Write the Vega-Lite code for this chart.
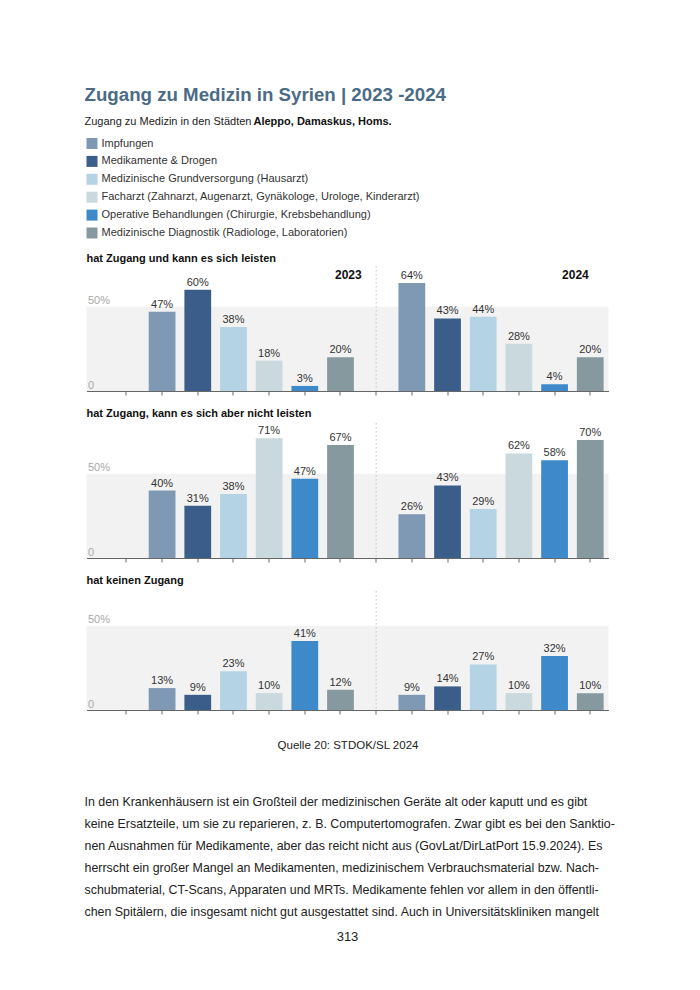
{
  "$schema": "https://vega.github.io/schema/vega-lite/v6.json",
  "background": "white",
  "padding": {"left": 84.5, "top": 86, "right": 10, "bottom": 10},
  "config": {
    "font": "Liberation Sans",
    "view": {"stroke": null},
    "title": {"font": "Liberation Sans"}
  },
  "title": {
    "text": "Zugang zu Medizin in Syrien | 2023 -2024",
    "subtitle": "Zugang zu Medizin in den Städten",
    "anchor": "start",
    "fontSize": 18.7,
    "fontWeight": "bold",
    "color": "#4a6b86",
    "subtitleFontSize": 11,
    "subtitleColor": "#222222",
    "subtitleFont": "Liberation Sans",
    "subtitlePadding": 11,
    "offset": -11
  },
  "datasets": {
    "bars": [
      {"panel": 1, "year": "2023", "slot": "2023-1", "cat": "Impfungen", "value": 0.47},
      {"panel": 1, "year": "2023", "slot": "2023-2", "cat": "Medikamente & Drogen", "value": 0.60},
      {"panel": 1, "year": "2023", "slot": "2023-3", "cat": "Medizinische Grundversorgung (Hausarzt)", "value": 0.38},
      {"panel": 1, "year": "2023", "slot": "2023-4", "cat": "Facharzt (Zahnarzt, Augenarzt, Gynäkologe, Urologe, Kinderarzt)", "value": 0.18},
      {"panel": 1, "year": "2023", "slot": "2023-5", "cat": "Operative Behandlungen (Chirurgie, Krebsbehandlung)", "value": 0.03},
      {"panel": 1, "year": "2023", "slot": "2023-6", "cat": "Medizinische Diagnostik (Radiologe, Laboratorien)", "value": 0.20},
      {"panel": 1, "year": "2024", "slot": "2024-1", "cat": "Impfungen", "value": 0.64},
      {"panel": 1, "year": "2024", "slot": "2024-2", "cat": "Medikamente & Drogen", "value": 0.43},
      {"panel": 1, "year": "2024", "slot": "2024-3", "cat": "Medizinische Grundversorgung (Hausarzt)", "value": 0.44},
      {"panel": 1, "year": "2024", "slot": "2024-4", "cat": "Facharzt (Zahnarzt, Augenarzt, Gynäkologe, Urologe, Kinderarzt)", "value": 0.28},
      {"panel": 1, "year": "2024", "slot": "2024-5", "cat": "Operative Behandlungen (Chirurgie, Krebsbehandlung)", "value": 0.04},
      {"panel": 1, "year": "2024", "slot": "2024-6", "cat": "Medizinische Diagnostik (Radiologe, Laboratorien)", "value": 0.20},
      {"panel": 2, "year": "2023", "slot": "2023-1", "cat": "Impfungen", "value": 0.40},
      {"panel": 2, "year": "2023", "slot": "2023-2", "cat": "Medikamente & Drogen", "value": 0.31},
      {"panel": 2, "year": "2023", "slot": "2023-3", "cat": "Medizinische Grundversorgung (Hausarzt)", "value": 0.38},
      {"panel": 2, "year": "2023", "slot": "2023-4", "cat": "Facharzt (Zahnarzt, Augenarzt, Gynäkologe, Urologe, Kinderarzt)", "value": 0.71},
      {"panel": 2, "year": "2023", "slot": "2023-5", "cat": "Operative Behandlungen (Chirurgie, Krebsbehandlung)", "value": 0.47},
      {"panel": 2, "year": "2023", "slot": "2023-6", "cat": "Medizinische Diagnostik (Radiologe, Laboratorien)", "value": 0.67},
      {"panel": 2, "year": "2024", "slot": "2024-1", "cat": "Impfungen", "value": 0.26},
      {"panel": 2, "year": "2024", "slot": "2024-2", "cat": "Medikamente & Drogen", "value": 0.43},
      {"panel": 2, "year": "2024", "slot": "2024-3", "cat": "Medizinische Grundversorgung (Hausarzt)", "value": 0.29},
      {"panel": 2, "year": "2024", "slot": "2024-4", "cat": "Facharzt (Zahnarzt, Augenarzt, Gynäkologe, Urologe, Kinderarzt)", "value": 0.62},
      {"panel": 2, "year": "2024", "slot": "2024-5", "cat": "Operative Behandlungen (Chirurgie, Krebsbehandlung)", "value": 0.58},
      {"panel": 2, "year": "2024", "slot": "2024-6", "cat": "Medizinische Diagnostik (Radiologe, Laboratorien)", "value": 0.70},
      {"panel": 3, "year": "2023", "slot": "2023-1", "cat": "Impfungen", "value": 0.13},
      {"panel": 3, "year": "2023", "slot": "2023-2", "cat": "Medikamente & Drogen", "value": 0.09},
      {"panel": 3, "year": "2023", "slot": "2023-3", "cat": "Medizinische Grundversorgung (Hausarzt)", "value": 0.23},
      {"panel": 3, "year": "2023", "slot": "2023-4", "cat": "Facharzt (Zahnarzt, Augenarzt, Gynäkologe, Urologe, Kinderarzt)", "value": 0.10},
      {"panel": 3, "year": "2023", "slot": "2023-5", "cat": "Operative Behandlungen (Chirurgie, Krebsbehandlung)", "value": 0.41},
      {"panel": 3, "year": "2023", "slot": "2023-6", "cat": "Medizinische Diagnostik (Radiologe, Laboratorien)", "value": 0.12},
      {"panel": 3, "year": "2024", "slot": "2024-1", "cat": "Impfungen", "value": 0.09},
      {"panel": 3, "year": "2024", "slot": "2024-2", "cat": "Medikamente & Drogen", "value": 0.14},
      {"panel": 3, "year": "2024", "slot": "2024-3", "cat": "Medizinische Grundversorgung (Hausarzt)", "value": 0.27},
      {"panel": 3, "year": "2024", "slot": "2024-4", "cat": "Facharzt (Zahnarzt, Augenarzt, Gynäkologe, Urologe, Kinderarzt)", "value": 0.10},
      {"panel": 3, "year": "2024", "slot": "2024-5", "cat": "Operative Behandlungen (Chirurgie, Krebsbehandlung)", "value": 0.32},
      {"panel": 3, "year": "2024", "slot": "2024-6", "cat": "Medizinische Diagnostik (Radiologe, Laboratorien)", "value": 0.10}
    ]
  },
  "spacing": 40,
  "vconcat": [
    {
      "spacing": 13,
      "resolve": {"scale": {"color": "independent", "y": "independent", "x": "independent"}},
      "vconcat": [
        {
          "width": 522,
          "height": 1,
          "title": {"text": "Aleppo, Damaskus, Homs.", "anchor": "start", "fontSize": 11, "fontWeight": "bold", "color": "#111111", "dx": 167, "offset": 10},
          "data": {"name": "bars"},
          "transform": [{"filter": "datum.panel == 1"}],
          "mark": {"type": "rect", "opacity": 0},
          "encoding": {
            "color": {"field": "cat", "type": "nominal",
              "scale": {"domain": ["Impfungen", "Medikamente & Drogen", "Medizinische Grundversorgung (Hausarzt)", "Facharzt (Zahnarzt, Augenarzt, Gynäkologe, Urologe, Kinderarzt)", "Operative Behandlungen (Chirurgie, Krebsbehandlung)", "Medizinische Diagnostik (Radiologe, Laboratorien)"], "range": ["#7f98b3", "#3b5d89", "#b4d3e5", "#c9d9de", "#3e89ca", "#86999e"]},
              "legend": {"orient": "none", "legendX": 0, "legendY": 1, "title": null, "direction": "vertical", "symbolType": "square", "symbolSize": 121, "symbolStrokeWidth": 0, "symbolOpacity": 1, "labelFontSize": 11, "labelColor": "#333333", "labelLimit": 600, "labelOffset": 4, "rowPadding": 5.9, "padding": 0}}
          }
        },
        {
          "spacing": 11,
          "resolve": {"scale": {"color": "independent", "y": "independent"}},
          "vconcat": [
            {
              "width": 522,
              "height": 125,
              "title": {"text": "hat Zugang und kann es sich leisten", "anchor": "start", "fontSize": 11, "fontWeight": "bold", "color": "#111111", "offset": 2},
              "layer": [
                {
                  "data": {"values": [{}]},
                  "mark": {"type": "rect", "color": "#f2f2f2"},
                  "encoding": {"y": {"datum": 0, "type": "quantitative"}, "y2": {"datum": 0.5}}
                },
                {
                  "data": {"values": [{}]},
                  "mark": {"type": "rule", "color": "#c4c4c4", "strokeDash": [1.5, 2.5], "strokeWidth": 1},
                  "encoding": {"x": {"datum": "b", "type": "nominal"}}
                },
                {
                  "data": {"name": "bars"},
                  "transform": [{"filter": "datum.panel == 1"}],
                  "mark": {"type": "bar"},
                  "encoding": {
                    "x": {"field": "slot", "type": "nominal", "sort": null,
                      "scale": {"domain": ["a", "2023-1", "2023-2", "2023-3", "2023-4", "2023-5", "2023-6", "b", "2024-1", "2024-2", "2024-3", "2024-4", "2024-5", "2024-6"], "paddingInner": 0.25, "paddingOuter": 0.44, "align": 0.845, "round": false},
                      "axis": {"title": null, "labels": false, "domain": true, "domainColor": "#666666", "ticks": true, "tickColor": "#666666", "tickSize": 4, "grid": false, "bandPosition": 0.5, "zindex": 1}},
                    "y": {"field": "value", "type": "quantitative",
                      "scale": {"domain": [0, 0.741], "nice": false},
                      "axis": {"title": null, "values": [0, 0.5], "domain": false, "ticks": false, "tickSize": 0, "grid": false, "labelAlign": "left", "labelBaseline": "bottom", "labelPadding": -1, "labelColor": "#a8a8a8", "labelFontSize": 11, "labelExpr": "datum.value == 0 ? '0' : '50%'", "labelOffset": -1, "zindex": 1}},
                    "color": {"field": "cat", "type": "nominal",
                      "scale": {"domain": ["Impfungen", "Medikamente & Drogen", "Medizinische Grundversorgung (Hausarzt)", "Facharzt (Zahnarzt, Augenarzt, Gynäkologe, Urologe, Kinderarzt)", "Operative Behandlungen (Chirurgie, Krebsbehandlung)", "Medizinische Diagnostik (Radiologe, Laboratorien)"], "range": ["#7f98b3", "#3b5d89", "#b4d3e5", "#c9d9de", "#3e89ca", "#86999e"]},
                      "legend": null}
                  }
                },
                {
                  "data": {"name": "bars"},
                  "transform": [{"filter": "datum.panel == 1"}],
                  "mark": {"type": "text", "baseline": "bottom", "dy": -2, "fontSize": 11, "color": "#333333"},
                  "encoding": {
                    "x": {"field": "slot", "type": "nominal", "sort": null},
                    "y": {"field": "value", "type": "quantitative"},
                    "text": {"field": "value", "type": "quantitative", "format": ".0%"}
                  }
                },
                {
                  "data": {"values": [{"t": "2023"}]},
                  "mark": {"type": "text", "align": "right", "baseline": "middle", "fontSize": 12, "fontWeight": "bold", "color": "#111111", "dx": -14.5},
                  "encoding": {"x": {"datum": "b", "type": "nominal"}, "y": {"datum": 0.685, "type": "quantitative"}, "text": {"field": "t"}}
                },
                {
                  "data": {"values": [{"t": "2024"}]},
                  "mark": {"type": "text", "align": "right", "baseline": "middle", "fontSize": 12, "fontWeight": "bold", "color": "#111111", "dx": -1.5},
                  "encoding": {"x": {"datum": "2024-6", "type": "nominal"}, "y": {"datum": 0.685, "type": "quantitative"}, "text": {"field": "t"}}
                }
              ]
            },
            {
              "width": 522,
              "height": 135,
              "title": {"text": "hat Zugang, kann es sich aber nicht leisten", "anchor": "start", "fontSize": 11, "fontWeight": "bold", "color": "#111111", "offset": 4},
              "layer": [
                {
                  "data": {"values": [{}]},
                  "mark": {"type": "rect", "color": "#f2f2f2"},
                  "encoding": {"y": {"datum": 0, "type": "quantitative"}, "y2": {"datum": 0.5}}
                },
                {
                  "data": {"values": [{}]},
                  "mark": {"type": "rule", "color": "#c4c4c4", "strokeDash": [1.5, 2.5], "strokeWidth": 1},
                  "encoding": {"x": {"datum": "b", "type": "nominal"}}
                },
                {
                  "data": {"name": "bars"},
                  "transform": [{"filter": "datum.panel == 2"}],
                  "mark": {"type": "bar"},
                  "encoding": {
                    "x": {"field": "slot", "type": "nominal", "sort": null,
                      "scale": {"domain": ["a", "2023-1", "2023-2", "2023-3", "2023-4", "2023-5", "2023-6", "b", "2024-1", "2024-2", "2024-3", "2024-4", "2024-5", "2024-6"], "paddingInner": 0.25, "paddingOuter": 0.44, "align": 0.845, "round": false},
                      "axis": {"title": null, "labels": false, "domain": true, "domainColor": "#666666", "ticks": true, "tickColor": "#666666", "tickSize": 4, "grid": false, "bandPosition": 0.5, "zindex": 1}},
                    "y": {"field": "value", "type": "quantitative",
                      "scale": {"domain": [0, 0.80], "nice": false},
                      "axis": {"title": null, "values": [0, 0.5], "domain": false, "ticks": false, "tickSize": 0, "grid": false, "labelAlign": "left", "labelBaseline": "bottom", "labelPadding": -1, "labelColor": "#a8a8a8", "labelFontSize": 11, "labelExpr": "datum.value == 0 ? '0' : '50%'", "labelOffset": -1, "zindex": 1}},
                    "color": {"field": "cat", "type": "nominal",
                      "scale": {"domain": ["Impfungen", "Medikamente & Drogen", "Medizinische Grundversorgung (Hausarzt)", "Facharzt (Zahnarzt, Augenarzt, Gynäkologe, Urologe, Kinderarzt)", "Operative Behandlungen (Chirurgie, Krebsbehandlung)", "Medizinische Diagnostik (Radiologe, Laboratorien)"], "range": ["#7f98b3", "#3b5d89", "#b4d3e5", "#c9d9de", "#3e89ca", "#86999e"]},
                      "legend": null}
                  }
                },
                {
                  "data": {"name": "bars"},
                  "transform": [{"filter": "datum.panel == 2"}],
                  "mark": {"type": "text", "baseline": "bottom", "dy": -2, "fontSize": 11, "color": "#333333"},
                  "encoding": {
                    "x": {"field": "slot", "type": "nominal", "sort": null},
                    "y": {"field": "value", "type": "quantitative"},
                    "text": {"field": "value", "type": "quantitative", "format": ".0%"}
                  }
                }
              ]
            },
            {
              "width": 522,
              "height": 119,
              "title": {"text": "hat keinen Zugang", "anchor": "start", "fontSize": 11, "fontWeight": "bold", "color": "#111111", "offset": 5},
              "layer": [
                {
                  "data": {"values": [{}]},
                  "mark": {"type": "rect", "color": "#f2f2f2"},
                  "encoding": {"y": {"datum": 0, "type": "quantitative"}, "y2": {"datum": 0.5}}
                },
                {
                  "data": {"values": [{}]},
                  "mark": {"type": "rule", "color": "#c4c4c4", "strokeDash": [1.5, 2.5], "strokeWidth": 1},
                  "encoding": {"x": {"datum": "b", "type": "nominal"}}
                },
                {
                  "data": {"name": "bars"},
                  "transform": [{"filter": "datum.panel == 3"}],
                  "mark": {"type": "bar"},
                  "encoding": {
                    "x": {"field": "slot", "type": "nominal", "sort": null,
                      "scale": {"domain": ["a", "2023-1", "2023-2", "2023-3", "2023-4", "2023-5", "2023-6", "b", "2024-1", "2024-2", "2024-3", "2024-4", "2024-5", "2024-6"], "paddingInner": 0.25, "paddingOuter": 0.44, "align": 0.845, "round": false},
                      "axis": {"title": "Quelle 20: STDOK/SL 2024", "titleFontSize": 11.5, "titleFontWeight": "normal", "titleColor": "#222222", "titlePadding": 25, "labels": false, "domain": true, "domainColor": "#666666", "ticks": true, "tickColor": "#666666", "tickSize": 4, "grid": false, "bandPosition": 0.5, "zindex": 1}},
                    "y": {"field": "value", "type": "quantitative",
                      "scale": {"domain": [0, 0.706], "nice": false},
                      "axis": {"title": null, "values": [0, 0.5], "domain": false, "ticks": false, "tickSize": 0, "grid": false, "labelAlign": "left", "labelBaseline": "bottom", "labelPadding": -1, "labelColor": "#a8a8a8", "labelFontSize": 11, "labelExpr": "datum.value == 0 ? '0' : '50%'", "labelOffset": -1, "zindex": 1}},
                    "color": {"field": "cat", "type": "nominal",
                      "scale": {"domain": ["Impfungen", "Medikamente & Drogen", "Medizinische Grundversorgung (Hausarzt)", "Facharzt (Zahnarzt, Augenarzt, Gynäkologe, Urologe, Kinderarzt)", "Operative Behandlungen (Chirurgie, Krebsbehandlung)", "Medizinische Diagnostik (Radiologe, Laboratorien)"], "range": ["#7f98b3", "#3b5d89", "#b4d3e5", "#c9d9de", "#3e89ca", "#86999e"]},
                      "legend": null}
                  }
                },
                {
                  "data": {"name": "bars"},
                  "transform": [{"filter": "datum.panel == 3"}],
                  "mark": {"type": "text", "baseline": "bottom", "dy": -2, "fontSize": 11, "color": "#333333"},
                  "encoding": {
                    "x": {"field": "slot", "type": "nominal", "sort": null},
                    "y": {"field": "value", "type": "quantitative"},
                    "text": {"field": "value", "type": "quantitative", "format": ".0%"}
                  }
                }
              ]
            }
          ]
        }
      ]
    },
    {
      "width": 522,
      "height": 132,
      "title": {"text": "313", "orient": "bottom", "anchor": "middle", "fontSize": 13, "fontWeight": "normal", "color": "#222222", "offset": 8},
      "data": {"values": [
        {"line": 1, "text": "In den Krankenhäusern ist ein Großteil der medizinischen Geräte alt oder kaputt und es gibt"},
        {"line": 2, "text": "keine Ersatzteile, um sie zu reparieren, z. B. Computertomografen. Zwar gibt es bei den Sanktio-"},
        {"line": 3, "text": "nen Ausnahmen für Medikamente, aber das reicht nicht aus (GovLat/DirLatPort 15.9.2024). Es"},
        {"line": 4, "text": "herrscht ein großer Mangel an Medikamenten, medizinischem Verbrauchsmaterial bzw. Nach-"},
        {"line": 5, "text": "schubmaterial, CT-Scans, Apparaten und MRTs. Medikamente fehlen vor allem in den öffentli-"},
        {"line": 6, "text": "chen Spitälern, die insgesamt nicht gut ausgestattet sind. Auch in Universitätskliniken mangelt"}
      ]},
      "mark": {"type": "text", "align": "left", "baseline": "middle", "fontSize": 12.4, "color": "#222222", "dx": -2},
      "encoding": {
        "y": {"field": "line", "type": "ordinal", "axis": null},
        "x": {"value": 0},
        "text": {"field": "text"}
      }
    }
  ]
}
